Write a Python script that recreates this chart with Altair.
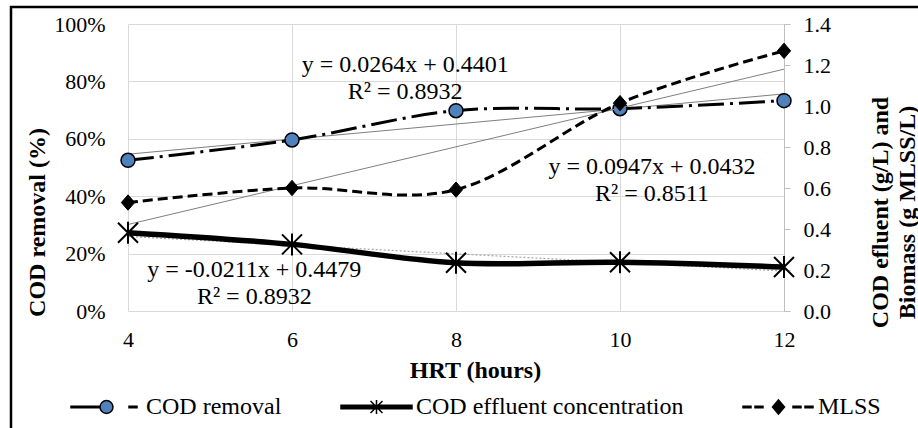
import altair as alt
import pandas as pd

FONT = "'Liberation Serif', 'Times New Roman', Times, serif"

# ---- data ----
hrt = [4, 6, 8, 10, 12]
cod_removal = [0.525, 0.596, 0.698, 0.705, 0.733]      # fraction (left axis, %)
cod_effluent = [0.382, 0.325, 0.235, 0.238, 0.215]     # g/L (right axis)
mlss = [0.529, 0.600, 0.592, 1.014, 1.269]             # g MLSS/L (right axis)

series_names = ["COD removal", "COD effluent concentration", "MLSS"]

eq_labels = [
    "y = 0.0264x + 0.4401\nR² = 0.8932",
    "y = 0.0947x + 0.0432\nR² = 0.8511",
    "y = -0.0211x + 0.4479\nR² = 0.8932",
]
eq_hrt = [7.38, 10.39, 5.54]
eq_val = [1.2, 0.702, 0.2]

x_ticks = [4, 6, 8, 10, 12]
left_ticks = [0, 0.2, 0.4, 0.6, 0.8, 1.0]
right_ticks = [0, 0.2, 0.4, 0.6, 0.8, 1.0, 1.2, 1.4]

# ---- legend symbol shapes (line + marker drawn as one path) ----
leg_removal = ("M-1,-0.021H-0.183V0.021H-1Z "
               "M0.183,0A0.183,0.183,0,1,1,-0.183,0A0.183,0.183,0,1,1,0.183,0Z "
               "M0.634,-0.021H0.859V0.021H0.634Z")
leg_effluent = ("M-1,-0.049H1V0.049H-1Z "
                "M-0.169,-0.169L0.169,0.169M-0.169,0.169L0.169,-0.169M0,-0.2L0,0.2")
leg_mlss = ("M-1,-0.021H-0.775V0.021H-1Z M-0.662,-0.021H-0.437V0.021H-0.662Z "
            "M0.408,-0.021H0.634V0.021H0.408Z M0.746,-0.021H0.972V0.021H0.746Z "
            "M0,-0.197L0.169,0L0,0.197L-0.169,0Z")
legend_paths = [leg_removal, leg_effluent, leg_mlss]
legend_fills = ["#4F81BD", "black", "black"]
legend_strokes = ["black", "black", "black"]

asterisk = "M-1,-1L1,1M-1,1L1,-1M0,-1.1L0,1.1"
diamond = "M0,-1.1L0.95,0L0,1.1L-0.95,0Z"

df_r = pd.DataFrame({"hrt": hrt, "value": cod_removal})
df_e = pd.DataFrame({"hrt": hrt, "value": cod_effluent})
df_m = pd.DataFrame({"hrt": hrt, "value": mlss})
ann_df = pd.DataFrame({"hrt": eq_hrt, "value": eq_val, "label": eq_labels})
legend_df = pd.DataFrame({"series": series_names, "hrt": [4] * 3, "value": [0.0] * 3})

x_enc = alt.X(
    "hrt:Q",
    scale=alt.Scale(domain=[4, 12], nice=False, zero=False),
    axis=alt.Axis(
        values=x_ticks, format="d", title="HRT (hours)",
        grid=True, gridColor="#d9d9d9", gridWidth=1,
        domain=False, ticks=False, labelFlush=False,
        labelFont=FONT, labelFontSize=22, labelColor="black", labelPadding=18,
        titleFont=FONT, titleFontSize=24, titleFontWeight="bold", titleColor="black",
        titleX=347, titleY=47, titleBaseline="top", titleAlign="center",
    ),
)

yL = alt.Y(
    "value:Q",
    scale=alt.Scale(domain=[0, 1], nice=False),
    axis=alt.Axis(
        orient="left", values=left_ticks, format=".0%",
        grid=True, gridColor="#d9d9d9", gridWidth=1,
        domain=False, ticks=False, tickSize=0,
        labelFont=FONT, labelFontSize=22, labelColor="black", labelPadding=23,
        title="COD removal  (%)",
        titleFont=FONT, titleFontSize=24, titleFontWeight="bold", titleColor="black",
        titleAngle=270, titleX=-91, titleY=198, titleBaseline="middle", titleAlign="center",
    ),
)

yR = alt.Y(
    "value:Q",
    scale=alt.Scale(domain=[0, 1.4], nice=False),
    axis=alt.Axis(
        orient="right", values=right_ticks, format=".1f",
        grid=False, domain=True, domainColor="#bfbfbf", domainWidth=1,
        ticks=True, tickColor="#bfbfbf", tickSize=6,
        labelFont=FONT, labelFontSize=22, labelColor="black", labelPadding=13,
        title=["COD efluent (g/L) and", "Biomass (g MLSS/L)"],
        titleFont=FONT, titleFontSize=24, titleFontWeight="bold", titleColor="black",
        titleAngle=270, titleX=96, titleY=188, titleBaseline="middle", titleAlign="center",
        titleLineHeight=27,
    ),
)


def trend(df, y, **kw):
    return (alt.Chart(df)
            .transform_regression("hrt", "value", method="linear", extent=[4, 12])
            .mark_line(**kw).encode(x=x_enc, y=y))


def smooth(df, y, **kw):
    return alt.Chart(df).mark_line(interpolate="cardinal", color="black", **kw).encode(x=x_enc, y=y)


left = alt.layer(
    trend(df_r, yL, color="#7f7f7f", strokeWidth=1),
    smooth(df_r, yL, strokeWidth=3, strokeDash=[26, 6, 3, 6]),
    alt.Chart(df_r).mark_point(shape="circle", filled=True, fill="#4F81BD", stroke="black",
                               strokeWidth=1.5, size=196, opacity=1).encode(x=x_enc, y=yL),
)

leg = alt.Legend(
    title=None, orient="none", legendX=-58, legendY=373, direction="horizontal",
    columnPadding=58, labelOffset=3, clipHeight=20, padding=0,
    symbolSize=5041, symbolStrokeColor="black", symbolStrokeWidth=1.5, symbolOpacity=1,
    labelFont=FONT, labelFontSize=24, labelColor="black", labelLimit=0,
)

legend_layer = (
    alt.Chart(legend_df)
    .transform_filter("false")
    .mark_point(filled=True, stroke="black", strokeWidth=1.5, size=5041, opacity=1)
    .encode(
        x=x_enc, y=yR,
        shape=alt.Shape("series:N", scale=alt.Scale(domain=series_names, range=legend_paths), legend=leg),
        fill=alt.Fill("series:N", scale=alt.Scale(domain=series_names, range=legend_fills), legend=leg),
        stroke=alt.Stroke("series:N", scale=alt.Scale(domain=series_names, range=legend_strokes), legend=leg),
    )
)

right = alt.layer(
    trend(df_e, yR, color="#a6a6a6", strokeWidth=1.2, strokeDash=[2, 2]),
    trend(df_m, yR, color="#7f7f7f", strokeWidth=1),
    smooth(df_e, yR, strokeWidth=5.5),
    smooth(df_m, yR, strokeWidth=3, strokeDash=[10, 5]),
    alt.Chart(df_e).mark_point(shape=asterisk, filled=False, stroke="black",
                               strokeWidth=2, size=400, opacity=1).encode(x=x_enc, y=yR),
    alt.Chart(df_m).mark_point(shape=diamond, filled=True, fill="black", stroke="black",
                               strokeWidth=1, size=196, opacity=1).encode(x=x_enc, y=yR),
    alt.Chart(ann_df).mark_text(font=FONT, fontSize=24, color="black", lineBreak="\n",
                                lineHeight=27, align="center", baseline="middle")
    .encode(x=x_enc, y=yR, text="label:N"),
    legend_layer,
)

frame = alt.Chart(pd.DataFrame({"k": [0]})).mark_rect(
    fill="transparent", stroke="black", strokeWidth=2.5
).encode(x=alt.value(-117), x2=alt.value(830), y=alt.value(-17), y2=alt.value(440))

chart = (
    alt.layer(left, right, frame)
    .resolve_scale(y="independent")
    .properties(
        width=656, height=287,
        padding={"left": 128, "top": 24, "right": 134, "bottom": 117},
        autosize=alt.AutoSizeParams(type="none"),
    )
    .configure_view(stroke="transparent")
)

chart.save("out.html", embed_options={"renderer": "svg", "actions": False})
